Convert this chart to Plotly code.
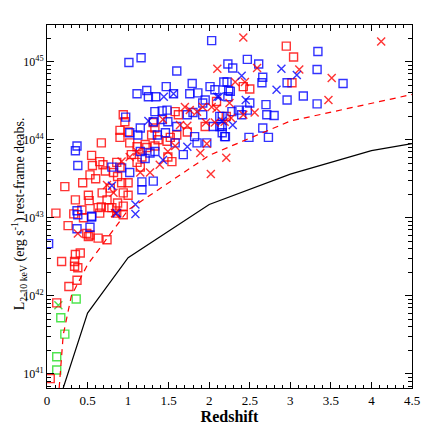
import plotly.graph_objects as go

# blue squares (z, log L)
blue_sq_z = [0.38, 0.37, 0.02, 0.53, 0.55, 0.37, 0.35, 0.38, 0.55, 0.37, 0.97, 1.11, 1.23, 1.25, 1.34, 1.47,
             1.56, 1.79, 1.76, 1.86, 1.95, 2.01, 1.33, 1.42, 1.48, 1.31, 1.42, 1.49, 1.6, 1.73, 1.8, 1.92,
             1.15, 1.12, 1.02, 1.36, 1.46, 1.58, 1.68, 1.82, 1.85, 1.97, 2.05, 2.16, 2.19, 2.16, 2.22, 2.26,
             2.23, 2.29, 1.33, 1.21, 1.02, 1.17, 1.31, 1.17, 0.92, 0.8, 1.15, 1.27, 1.01, 1.16, 2.03, 1.6,
             2.47, 2.61, 3.34, 3.33, 3.65, 2.66, 2.65, 2.96, 3.16, 2.96, 3.33, 2.18, 2.24, 2.07, 2.23, 2.5,
             2.47, 2.7, 2.71, 2.8, 2.66, 2.73, 2.49, 2.28, 2.36, 2.4, 1.92, 2.13, 2.13, 2.2, 2.16]
blue_sq_l = [43.04, 42.86, 42.67, 42.88, 43.02, 43.92, 43.86, 43.67, 43.01, 43.09, 44.29, 44.59, 44.63, 44.55, 44.55, 44.68,
             44.59, 44.72, 44.59, 44.6, 44.51, 44.68, 44.36, 44.37, 44.38, 44.23, 44.26, 44.23, 44.17, 44.32, 44.35, 44.32,
             44.15, 44.06, 44.09, 44.06, 44.09, 43.96, 43.81, 44.04, 43.96, 43.96, 44.17, 44.17, 44.04, 44.3, 44.74, 44.62,
             44.97, 44.92, 43.85, 43.76, 43.58, 43.46, 43.47, 43.36, 43.64, 43.65, 43.85, 43.83, 44.99, 45.05, 45.27, 44.88,
             45.03, 44.97, 45.13, 44.9, 44.72, 44.8, 44.73, 44.73, 44.56, 44.51, 44.46, 44.74, 44.63, 44.64, 44.55, 44.47,
             44.38, 44.45, 44.32, 44.31, 44.15, 44.03, 44.03, 44.36, 44.38, 44.32, 44.47, 44.3, 44.17, 44.04, 44.09]

blue_x_z = [1.44, 1.56, 1.25, 1.43, 0.8, 1.09, 1.09, 1.73, 2.16, 2.1, 2.29, 2.4, 2.89, 3.08, 2.83, 2.45, 2.12, 0.86]
blue_x_l = [44.55, 44.59, 44.24, 43.74, 43.41, 43.17, 43.05, 43.91, 44.24, 44.55, 44.19, 44.82, 44.91, 44.83, 44.64, 44.51, 44.55, 43.06]

red_sq_z = [0.04, 0.12, 0.11, 0.18, 0.26, 0.27, 0.35, 0.34, 0.34, 0.38, 0.37, 0.41, 0.43, 0.33, 0.49, 0.51,
            0.53, 0.63, 0.67, 0.65, 0.74, 0.8, 0.94, 0.94, 0.22, 0.35, 0.44, 0.51, 0.52, 0.53, 0.56, 0.55,
            0.67, 0.69, 0.68, 0.74, 0.76, 0.63, 0.82, 0.86, 0.9, 0.87, 0.92, 1.0, 1.0, 0.87, 0.94, 0.86,
            0.9, 0.9, 0.94, 1.0, 1.02, 1.04, 1.11, 1.11, 1.15, 1.17, 1.21, 1.23, 1.31, 1.29, 1.33, 1.33,
            1.37, 1.48, 1.52, 1.6, 1.49, 1.54, 1.58, 1.62, 1.73, 0.96, 0.65, 2.95, 3.04, 3.02, 2.42, 2.5,
            2.09, 2.21, 1.95, 0.6, 0.72, 0.78, 0.45]
red_sq_l = [40.94, 41.91, 43.06, 42.44, 42.9, 42.12, 42.53, 42.44, 42.38, 42.36, 42.2, 42.55, 43.1, 43.05, 42.8, 42.76,
            42.78, 42.74, 43.14, 43.06, 42.72, 43.13, 43.04, 43.15, 43.4, 43.23, 43.45, 43.29, 43.22, 43.55, 43.67, 43.8,
            43.96, 43.68, 43.32, 43.23, 43.13, 43.13, 43.58, 43.71, 43.65, 43.53, 43.45, 43.45, 43.29, 43.19, 43.32, 43.06,
            44.03, 44.12, 44.32, 44.1, 43.96, 43.81, 43.71, 43.91, 43.65, 43.78, 43.94, 43.9, 44.22, 44.06, 43.92, 44.15,
            44.0, 43.98, 44.03, 44.06, 43.78, 43.72, 44.36, 44.32, 44.1, 44.23, 43.72, 45.2, 45.06, 44.73, 44.68, 44.65,
            44.49, 44.3, 44.17, 43.5, 43.6, 43.38, 43.0]

red_x_z = [2.42, 4.12, 2.1, 2.59, 3.11, 3.51, 3.47, 2.32, 2.44, 2.25, 2.03, 2.09, 2.42, 2.56, 2.27, 2.19,
           2.07, 1.96, 1.97, 2.21, 2.02, 1.92, 1.7, 1.85, 1.89, 1.58, 1.39, 1.49, 1.27, 1.15, 1.11, 1.02,
           0.92, 0.74, 0.82, 0.84, 1.43, 1.64, 1.76, 1.73, 0.38, 0.84]
red_x_l = [45.31, 45.26, 44.91, 44.92, 44.9, 44.79, 44.51, 44.74, 44.74, 44.47, 44.42, 44.4, 44.32, 44.35, 44.28, 44.23,
           44.22, 44.22, 43.95, 43.77, 43.56, 44.42, 44.42, 44.36, 43.83, 43.92, 43.68, 43.85, 43.58, 43.58, 43.85, 43.78,
           43.72, 43.42, 43.32, 43.06, 44.26, 44.19, 44.38, 44.18, 42.8, 43.06]

green_sq_z = [0.12, 0.12, 0.17, 0.22, 0.36]
green_sq_l = [41.05, 41.22, 41.72, 41.51, 41.96]
green_x_z = [0.14]
green_x_l = [41.88]

# flux-limit curves
solid_z = [0.2, 0.5, 1.0, 2.0, 3.0, 4.0, 4.5]
solid_l = [40.82, 41.78, 42.49, 43.17, 43.56, 43.86, 43.95]
dash_z = [0.15, 0.2, 0.3, 0.4, 0.5, 1.0, 2.0, 3.0, 4.5]
dash_l = [40.82, 41.5, 42.0, 42.2, 42.4, 43.1, 43.8, 44.24, 44.58]

decades = [40, 41, 42, 43, 44, 45]
minor_vals = [m * 10.0 ** d for d in decades for m in range(2, 10)]


def pw(v):
    return [10.0 ** x for x in v]


fig = go.Figure()
for zz, ll, col, sym in [
    (green_sq_z, green_sq_l, "#22dd22", "square-open"),
    (green_x_z, green_x_l, "#22dd22", "x-thin-open"),
    (red_sq_z, red_sq_l, "red", "square-open"),
    (blue_sq_z, blue_sq_l, "blue", "square-open"),
    (red_x_z, red_x_l, "red", "x-thin-open"),
    (blue_x_z, blue_x_l, "blue", "x-thin-open"),
]:
    fig.add_trace(go.Scatter(x=zz, y=pw(ll), mode="markers",
                             marker=dict(symbol=sym, size=8, color=col, opacity=0.8,
                                         line=dict(width=1.4, color=col))))
fig.add_trace(go.Scatter(x=solid_z, y=pw(solid_l), mode="lines", line=dict(color="black", width=1.2)))
fig.add_trace(go.Scatter(x=dash_z, y=pw(dash_l), mode="lines", line=dict(color="red", width=1.2, dash="6px,5px")))

axis = dict(showgrid=False, zeroline=False, mirror="allticks", showline=True, linecolor="black",
            linewidth=1, ticks="inside", color="black", automargin=False)
fig.update_xaxes(range=[0, 4.5], dtick=0.5, ticklen=6, minor=dict(ticks="inside", dtick=0.1, ticklen=3),
                 tickfont=dict(size=13), title=dict(text="<b>Redshift</b>", standoff=4), **axis)
fig.update_yaxes(type="log", range=[40.82, 45.47], ticklen=7, tickfont=dict(size=12),
                 tickvals=[1e41, 1e42, 1e43, 1e44, 1e45],
                 ticktext=["10<sup>41</sup>", "10<sup>42</sup>", "10<sup>43</sup>", "10<sup>44</sup>", "10<sup>45</sup>"],
                 minor=dict(ticks="inside", ticklen=4, tickvals=minor_vals, showgrid=False), **axis)
fig.add_annotation(text="L<sub>2-10 keV</sub> (erg s<sup>-1</sup>) rest-frame deabs.",
                   xref="paper", yref="paper", x=-0.078, y=0.48, xanchor="center", yanchor="middle",
                   textangle=-90, showarrow=False, font=dict(size=14))
fig.update_layout(width=436, height=436, margin=dict(l=39, r=32, t=17, b=56),
                  plot_bgcolor="white", paper_bgcolor="white", showlegend=False,
                  font=dict(family="Liberation Serif", size=13, color="black"))
fig.write_html("out.html")
